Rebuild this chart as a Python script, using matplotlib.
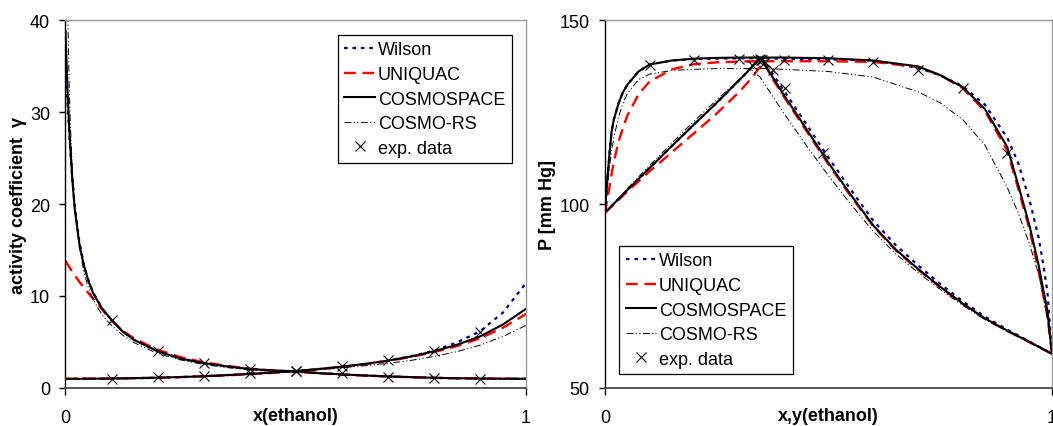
import matplotlib
matplotlib.use("Agg")
import matplotlib.pyplot as plt

plt.rcParams["font.family"] = ["Liberation Sans", "DejaVu Sans"]

# ── left: activity coefficients ──
x_gamma = [0, 0.0025, 0.005, 0.0075, 0.01, 0.015, 0.02, 0.03, 0.04, 0.05, 0.06, 0.08,
           0.1, 0.125, 0.15, 0.2, 0.25, 0.3, 0.35, 0.4, 0.45, 0.5, 0.55, 0.6, 0.65,
           0.7, 0.75, 0.8, 0.85, 0.9, 0.95, 1.0]

wilson_g1 = [35.6, 33.0, 30.5, 28.3, 26.3, 22.7, 19.8, 15.9, 13.4, 11.7, 10.4, 8.6,
             7.4, 6.1, 5.2, 4.0, 3.2, 2.7, 2.35, 2.07, 1.9, 1.82, 1.62, 1.48, 1.36,
             1.26, 1.18, 1.11, 1.06, 1.03, 1.01, 1.0]
wilson_g2 = [1.0, 1.0, 1.0, 1.0, 1.0, 1.0, 1.0, 1.0, 1.01, 1.01, 1.01, 1.02,
             1.03, 1.05, 1.07, 1.12, 1.19, 1.28, 1.4, 1.53, 1.68, 1.85, 2.06, 2.32, 2.62,
             2.97, 3.45, 4.05, 4.95, 6.15, 8.2, 11.4]

uniquac_g1 = [13.8, 13.6, 13.4, 13.2, 13.0, 12.6, 12.25, 11.55, 10.9, 10.3, 9.7, 8.5,
              7.3, 6.2, 5.35, 4.15, 3.35, 2.8, 2.4, 2.1, 1.9, 1.78, 1.6, 1.46, 1.35,
              1.25, 1.17, 1.1, 1.05, 1.02, 1.005, 1.0]
uniquac_g2 = [1.0, 1.0, 1.0, 1.0, 1.0, 1.0, 1.0, 1.0, 1.0, 1.01, 1.01, 1.02,
              1.03, 1.04, 1.06, 1.11, 1.18, 1.26, 1.37, 1.5, 1.65, 1.82, 2.03, 2.28, 2.58,
              2.93, 3.37, 3.9, 4.55, 5.4, 6.55, 8.05]

cosmospace_g1 = [38.8, 35.0, 31.5, 28.8, 26.5, 22.5, 19.5, 15.7, 13.3, 11.6, 10.3, 8.6,
                 7.4, 6.1, 5.2, 4.0, 3.2, 2.7, 2.35, 2.07, 1.9, 1.82, 1.62, 1.48, 1.36,
                 1.26, 1.18, 1.11, 1.06, 1.03, 1.01, 1.0]
cosmospace_g2 = [1.0, 1.0, 1.0, 1.0, 1.0, 1.0, 1.0, 1.0, 1.01, 1.01, 1.01, 1.02,
                 1.03, 1.05, 1.07, 1.12, 1.19, 1.28, 1.4, 1.53, 1.68, 1.85, 2.06, 2.32, 2.62,
                 2.97, 3.42, 3.98, 4.7, 5.6, 6.9, 8.6]

cosmors_g1 = [60.0, 48.0, 40.5, 34.0, 29.5, 23.5, 19.8, 15.3, 12.6, 10.8, 9.6, 7.9,
              6.8, 5.7, 4.9, 3.75, 3.05, 2.55, 2.22, 1.97, 1.8, 1.68, 1.55, 1.43, 1.33,
              1.25, 1.17, 1.11, 1.06, 1.03, 1.01, 1.0]
cosmors_g2 = [1.0, 1.0, 1.0, 1.0, 1.0, 1.0, 1.0, 1.0, 1.01, 1.01, 1.01, 1.02,
              1.03, 1.05, 1.07, 1.12, 1.19, 1.28, 1.39, 1.52, 1.65, 1.8, 1.98, 2.2, 2.42,
              2.68, 3.0, 3.42, 3.95, 4.65, 5.6, 6.8]

x_exp = [0.1, 0.2, 0.3, 0.4, 0.5, 0.6, 0.7, 0.8, 0.9]
g1_exp = [7.4, 4.0, 2.7, 2.07, 1.85, 1.6, 1.2, 1.05, 1.01]
g2_exp = [1.03, 1.15, 1.3, 1.6, 1.88, 2.35, 3.0, 4.05, 6.1]

# ── right: P-x-y ──
x_bub = [0, 0.0025, 0.005, 0.01, 0.015, 0.02, 0.03, 0.04, 0.05, 0.075, 0.1, 0.15,
         0.2, 0.25, 0.3, 0.35, 0.4, 0.5, 0.6, 0.7, 0.75, 0.8, 0.85, 0.9, 0.925,
         0.95, 0.97, 0.98, 0.99, 1.0]
wilson_bub = [97.6, 102.0, 106.0, 113.5, 119.8, 123.0, 127.2, 130.3, 132.4, 136.0, 137.9, 139.0,
              139.4, 139.5, 139.6, 139.6, 139.5, 139.3, 139.0, 137.0, 135.0, 132.0, 127.0, 118.0, 111.0,
              101.0, 91.0, 84.0, 76.0, 59.3]
uniquac_bub = [97.6, 99.3, 101.2, 104.5, 108.3, 111.5, 116.8, 120.6, 124.0, 129.8, 133.3, 136.6,
               138.0, 138.5, 138.7, 138.8, 138.8, 138.8, 138.6, 137.3, 135.0, 131.5, 125.3, 114.5, 104.0,
               93.0, 82.0, 75.5, 69.5, 59.3]
cosmospace_bub = [97.6, 102.0, 106.0, 113.5, 119.8, 123.0, 127.2, 130.3, 132.4, 136.0, 137.9, 139.0,
                  139.5, 139.7, 139.8, 139.8, 139.8, 139.6, 139.0, 137.4, 135.0, 131.8, 125.8, 115.5, 105.0,
                  94.0, 83.5, 77.0, 71.0, 59.3]
cosmors_bub = [97.6, 101.0, 104.0, 110.0, 114.5, 118.0, 123.5, 127.3, 130.0, 133.8, 135.3, 136.3,
               136.6, 136.8, 136.8, 136.8, 136.6, 136.0, 134.5, 130.5, 127.5, 123.0, 116.0, 104.5, 97.5,
               89.0, 81.0, 75.5, 68.5, 59.3]

y_dew = [0, 0.05, 0.1, 0.15, 0.2, 0.25, 0.3, 0.325, 0.347, 0.355, 0.37, 0.4, 0.45,
         0.5, 0.55, 0.6, 0.65, 0.7, 0.75, 0.8, 0.85, 0.9, 0.95, 1.0]
wilson_dew = [97.6, 103.8, 109.8, 115.8, 121.7, 127.5, 133.6, 136.7, 139.6, 138.8, 136.3, 130.9, 121.8,
              112.6, 103.9, 95.5, 88.9, 83.4, 78.3, 73.6, 69.4, 65.9, 62.6, 59.3]
uniquac_dew = [97.6, 103.4, 108.9, 114.1, 119.3, 124.6, 130.4, 133.8, 137.3, 138.7, 135.0, 129.2, 120.0,
               110.8, 102.1, 94.0, 87.5, 82.2, 77.4, 72.9, 68.8, 65.5, 62.4, 59.3]
cosmospace_dew = [97.6, 103.8, 109.8, 115.8, 121.7, 127.5, 133.6, 136.7, 139.8, 138.3, 135.5, 129.7, 120.5,
                  111.2, 102.5, 94.2, 87.7, 82.4, 77.5, 73.0, 68.9, 65.6, 62.5, 59.3]
cosmors_dew = [97.6, 104.2, 110.5, 116.6, 122.6, 128.3, 133.8, 136.7, 134.5, 133.0, 130.2, 124.7, 116.0,
               107.7, 99.9, 92.6, 86.5, 81.4, 76.8, 72.5, 68.6, 65.4, 62.4, 59.3]

x_pexp = [0.1, 0.2, 0.3, 0.4, 0.5, 0.6, 0.7, 0.8, 0.9]
y_pexp = [0.330, 0.343, 0.347, 0.350, 0.352, 0.357, 0.377, 0.403, 0.488]
p_exp = [137.9, 139.2, 139.4, 139.2, 139.1, 138.5, 136.5, 131.4, 113.8]

FS = 13
MODEL_STYLES = {
    "Wilson": dict(color="#000080", lw=1.6, dashes=(1.6, 2.2)),
    "UNIQUAC": dict(color="#ff0000", lw=1.7, dashes=(5.0, 2.8)),
    "COSMOSPACE": dict(color="black", lw=1.5, linestyle="-"),
    "COSMO-RS": dict(color="black", lw=0.7, dashes=(7, 2.5, 1.2, 2.5, 1.2, 2.5)),
}
EXP_STYLE = dict(linestyle="none", marker="x", color="black", markersize=7, markeredgewidth=0.8)


def style_axes(ax):
    ax.spines["left"].set_color("black")
    ax.spines["left"].set_linewidth(1.0)
    ax.spines["bottom"].set_color("#555555")
    ax.spines["bottom"].set_linewidth(1.4)
    for side in ("top", "right"):
        ax.spines[side].set_color("#999999")
        ax.spines[side].set_linewidth(1.0)
    ax.tick_params(axis="y", direction="out", length=4.5, width=1.0, pad=6.5, labelsize=FS)
    ax.tick_params(axis="x", direction="out", length=5, width=1.0, pad=10, labelsize=FS)
    ax.set_xlim(0, 1)
    ax.set_xticks([0, 1])
    ax.set_xticklabels(["0", "1"])


def add_legend(ax, loc, anchor):
    leg = ax.legend(loc=loc, bbox_to_anchor=anchor, borderaxespad=0, fontsize=FS,
                    frameon=True, fancybox=False, framealpha=1, handlelength=1.7,
                    handletextpad=0.15, labelspacing=0.42, borderpad=0.35)
    leg.get_frame().set_edgecolor("black")
    leg.get_frame().set_linewidth(0.9)


def main():
    fig = plt.figure(figsize=(10.53, 4.27), dpi=100)
    ax1 = fig.add_axes([0.0622, 0.089, 0.4373, 0.8618])
    ax2 = fig.add_axes([0.5745, 0.089, 0.4245, 0.8618])

    # left plot
    models_g = [
        ("Wilson", wilson_g1, wilson_g2),
        ("UNIQUAC", uniquac_g1, uniquac_g2),
        ("COSMOSPACE", cosmospace_g1, cosmospace_g2),
        ("COSMO-RS", cosmors_g1, cosmors_g2),
    ]
    for name, g1, g2 in models_g:
        ax1.plot(x_gamma, g1, label=name, **MODEL_STYLES[name])
        ax1.plot(x_gamma, g2, **MODEL_STYLES[name])
    ax1.plot(x_exp, g1_exp, label="exp. data", **EXP_STYLE)
    ax1.plot(x_exp, g2_exp, **EXP_STYLE)
    style_axes(ax1)
    ax1.set_ylim(0, 40)
    ax1.set_yticks([0, 10, 20, 30, 40])
    ax1.set_xlabel("x(ethanol)", fontsize=FS, fontweight="bold")
    ax1.xaxis.set_label_coords(0.5, -0.076)
    ax1.xaxis.label.set_verticalalignment("center")
    ax1.set_ylabel("activity coefficient  γ", fontsize=FS, fontweight="bold")
    ax1.yaxis.set_label_coords(-0.102, 0.5)
    ax1.yaxis.label.set_verticalalignment("center")
    add_legend(ax1, "upper left", (0.592, 0.959))

    # right plot
    models_p = [
        ("Wilson", wilson_bub, wilson_dew),
        ("UNIQUAC", uniquac_bub, uniquac_dew),
        ("COSMOSPACE", cosmospace_bub, cosmospace_dew),
        ("COSMO-RS", cosmors_bub, cosmors_dew),
    ]
    for name, bub, dew in models_p:
        ax2.plot(x_bub, bub, label=name, **MODEL_STYLES[name])
        ax2.plot(y_dew, dew, **MODEL_STYLES[name])
    ax2.plot(x_pexp, p_exp, label="exp. data", **EXP_STYLE)
    ax2.plot(y_pexp, p_exp, **EXP_STYLE)
    style_axes(ax2)
    ax2.set_ylim(50, 150)
    ax2.set_yticks([50, 100, 150])
    ax2.set_xlabel("x,y(ethanol)", fontsize=FS, fontweight="bold")
    ax2.xaxis.set_label_coords(0.5, -0.076)
    ax2.xaxis.label.set_verticalalignment("center")
    ax2.set_ylabel("P [mm Hg]", fontsize=FS, fontweight="bold")
    ax2.yaxis.set_label_coords(-0.128, 0.5)
    ax2.yaxis.label.set_verticalalignment("center")
    add_legend(ax2, "lower left", (0.032, 0.038))

    fig.savefig("out.png", dpi=100)
    plt.close(fig)


if __name__ == "__main__":
    main()
